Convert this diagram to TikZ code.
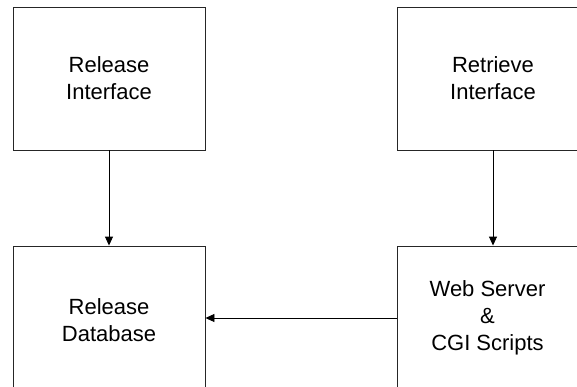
\documentclass[tikz,border=0pt]{standalone}
\usepackage{fontspec}
\newfontfamily\lab{Liberation Sans}
\usetikzlibrary{arrows.meta}
\tikzset{
  box/.style={draw=black!85, line width=0.9pt, rectangle, inner sep=0pt, align=center,
    font=\lab\fontsize{22}{27}\selectfont},
  conn/.style={draw=black, line width=0.9pt, -{Triangle[length=9pt,width=8pt]}}
}
\begin{document}
\begin{tikzpicture}[x=1pt,y=-1pt]
\useasboundingbox (0,0) rectangle (577,387);
\clip (0,0) rectangle (577,387);
\node[box, minimum width=192pt, minimum height=143pt] (ri) at (109,78.5) {Release\\Interface};
\node[box, minimum width=192pt, minimum height=143pt] (rt) at (493,78.5) {Retrieve\\Interface};
\node[box, minimum width=192pt, minimum height=148pt] (rd) at (109,320) {Release\\Database};
\node[box, minimum width=181pt, minimum height=144pt] (wb) at (487.5,318) {Web Server\\\&\\CGI Scripts};
\draw[conn] (ri.south) -- (rd.north);
\draw[conn] (rt.south) -- (rt.south |- wb.north);
\draw[conn] (wb.west) -- (rd.east |- wb.west);
\end{tikzpicture}
\end{document}
